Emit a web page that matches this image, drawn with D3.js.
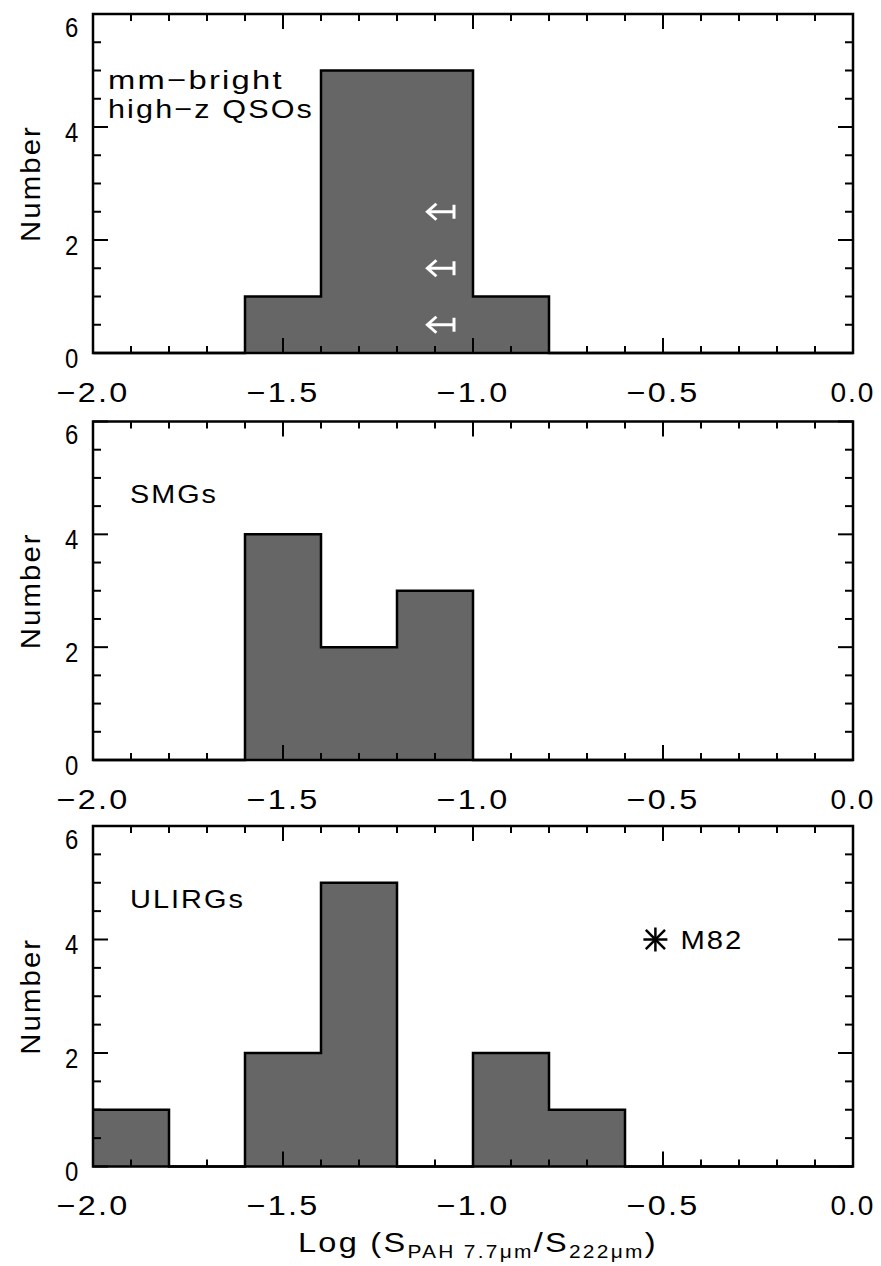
<!DOCTYPE html>
<html><head><meta charset="utf-8">
<script src="https://cdn.jsdelivr.net/npm/d3@7"></script>
<style>
body{margin:0;background:#fff;}
text{font-family:"Liberation Sans",Arial,Helvetica,sans-serif;fill:#000;}
</style></head>
<body><svg id="c" width="881" height="1266"></svg>
<script>
// ---- data ----
const binEdges = [-2.0,-1.8,-1.6,-1.4,-1.2,-1.0,-0.8,-0.6,-0.4,-0.2,0.0];
const qsoCounts   = [0,0,1,5,5,1,0,0,0,0];
const smgCounts   = [0,0,4,2,3,0,0,0,0,0];
const ulirgCounts = [1,0,2,5,0,2,1,0,0,0];
const panelLabels = [["mm\u2212bright","high\u2212z QSOs"],["SMGs"],["ULIRGs"]];
const xTickLabels = ["\u22122.0","\u22121.5","\u22121.0","\u22120.5","0.0"];
const xTickValues = [-2.0,-1.5,-1.0,-0.5,0.0];
const yTickValues = [0,2,4,6];
const yTickLabels = ["0","2","4","6"];
// upper limits (arrows) in QSO panel
const qsoLimitY = [2.5,1.5,0.5];
const qsoLimitX = [-1.05,-1.12];
const m82 = {x:-0.52, y:4, label:"M82"};

const svg = d3.select("#c");
const left = 93, right = 853;
const panels = [
  {top:14, bottom:353, counts:qsoCounts},
  {top:421.5, bottom:760, counts:smgCounts},
  {top:826, bottom:1166.5, counts:ulirgCounts}
];
const x = d3.scaleLinear().domain([-2,0]).range([left,right]);
const fs = 28;

// widen text to a target width (IDL font is wide): part letter-spacing, part stretch
function stretch(sel, targetW){
  const fsz = +sel.attr("font-size") || 26;
  sel.attr("letter-spacing", (fsz*0.07).toFixed(2));
  const w = sel.node().getBBox().width;
  if(!w) return sel;
  const k = targetW / w;
  const ax = +sel.attr("x");
  sel.attr("transform", `translate(${ax},0) scale(${k},1) translate(${-ax},0)`);
  return sel;
}

panels.forEach((p,i)=>{
  const y = d3.scaleLinear().domain([0,6]).range([p.bottom,p.top]);
  const g = svg.append("g");
  p.counts.forEach((c,j)=>{
    if(c>0){
      g.append("rect").attr("x",x(binEdges[j])).attr("width",x(binEdges[j+1])-x(binEdges[j]))
        .attr("y",y(c)).attr("height",y(0)-y(c)).attr("fill","#666666");
    }
  });
  const pts = binEdges.map((e,j)=>[e, j<p.counts.length? p.counts[j] : p.counts[p.counts.length-1]]);
  g.append("path").datum(pts)
    .attr("d", d3.line().x(d=>x(d[0])).y(d=>y(d[1])).curve(d3.curveStepAfter))
    .attr("fill","none").attr("stroke","#000").attr("stroke-width",2.5);
  g.append("rect").attr("x",left).attr("y",p.top).attr("width",right-left).attr("height",p.bottom-p.top)
    .attr("fill","none").attr("stroke","#000").attr("stroke-width",2.5);
  const minor = d3.range(-2,0.0001,0.1).map(v=>Math.round(v*10)/10);
  minor.forEach(v=>{
    const isMajor = xTickValues.some(m=>Math.abs(m-v)<1e-6);
    const L = isMajor?15:7;
    g.append("line").attr("x1",x(v)).attr("x2",x(v)).attr("y1",p.bottom).attr("y2",p.bottom-L).attr("stroke","#000").attr("stroke-width",2);
    g.append("line").attr("x1",x(v)).attr("x2",x(v)).attr("y1",p.top).attr("y2",p.top+L).attr("stroke","#000").attr("stroke-width",2);
  });
  d3.range(0,6.001,0.5).forEach(v=>{
    const isMajor = yTickValues.includes(v);
    const L = isMajor?15:8;
    g.append("line").attr("x1",left).attr("x2",left+L).attr("y1",y(v)).attr("y2",y(v)).attr("stroke","#000").attr("stroke-width",2);
    g.append("line").attr("x1",right).attr("x2",right-L).attr("y1",y(v)).attr("y2",y(v)).attr("stroke","#000").attr("stroke-width",2);
  });
  xTickValues.forEach((v,k)=>{
    const lab = xTickLabels[k];
    const w = lab.startsWith("\u2212") ? 73 : 45;
    const t = g.append("text").attr("x",x(v)-w/2).attr("y",p.bottom+49)
      .attr("font-size",fs).text(lab);
    stretch(t, w);
  });
  yTickValues.forEach((v,k)=>{
    const yy = (v===6) ? y(v)+23 : y(v)+15;
    const t = g.append("text").attr("x",left-28).attr("y",yy)
      .attr("font-size",fs).text(yTickLabels[k]);
    stretch(t, 15);
  });
  const cy = (p.top+p.bottom)/2;
  const yt = g.append("text").attr("x",0).attr("y",0).attr("font-size",27).attr("letter-spacing",1.9).text("Number");
  const yw = yt.node().getBBox().width;
  yt.attr("transform",`translate(40,${cy+117/2}) rotate(-90) scale(${117/yw},1)`);
  const lab = panelLabels[i];
  if(i===0){
    stretch(g.append("text").attr("x",108).attr("y",p.top+75).attr("font-size",26).text(lab[0]),176);
    stretch(g.append("text").attr("x",108).attr("y",p.top+104).attr("font-size",26).text(lab[1]),206);
    qsoLimitY.forEach(v=>{
      const yy=y(v), x0=x(qsoLimitX[0]), x1=x(qsoLimitX[1]);
      const a = g.append("g").attr("stroke","#fff").attr("stroke-width",3).attr("fill","none");
      a.append("line").attr("x1",x0).attr("x2",x1).attr("y1",yy).attr("y2",yy);
      a.append("line").attr("x1",x0).attr("x2",x0).attr("y1",yy-7).attr("y2",yy+7);
      a.append("polyline").attr("points",`${x1+9},${yy-8} ${x1},${yy} ${x1+9},${yy+8}`);
    });
  } else {
    stretch(g.append("text").attr("x",130).attr("y",p.top+82).attr("font-size",26).text(lab[0]), i===1?88:115);
  }
  if(i===2){
    const mx=x(m82.x), my=y(m82.y), r=12;
    const s=g.append("g").attr("stroke","#000").attr("stroke-width",2.5);
    s.append("line").attr("x1",mx).attr("x2",mx).attr("y1",my-r).attr("y2",my+r);
    s.append("line").attr("x1",mx-r).attr("x2",mx+r).attr("y1",my).attr("y2",my);
    s.append("line").attr("x1",mx-r*0.8).attr("x2",mx+r*0.8).attr("y1",my-r*0.8).attr("y2",my+r*0.8);
    s.append("line").attr("x1",mx-r*0.8).attr("x2",mx+r*0.8).attr("y1",my+r*0.8).attr("y2",my-r*0.8);
    stretch(g.append("text").attr("x",mx+25).attr("y",my+10).attr("font-size",26).text(m82.label),63);
  }
});
const t = svg.append("text").attr("x",298).attr("y",1252).attr("font-size",28);
t.append("tspan").text("Log (S");
t.append("tspan").attr("font-size",18).attr("dy",6).text("PAH 7.7\u03bcm");
t.append("tspan").attr("dy",-6).text("/S");
t.append("tspan").attr("font-size",18).attr("dy",6).text("222\u03bcm");
t.append("tspan").attr("dy",-6).text(")");
stretch(t, 360);
</script></body></html>
